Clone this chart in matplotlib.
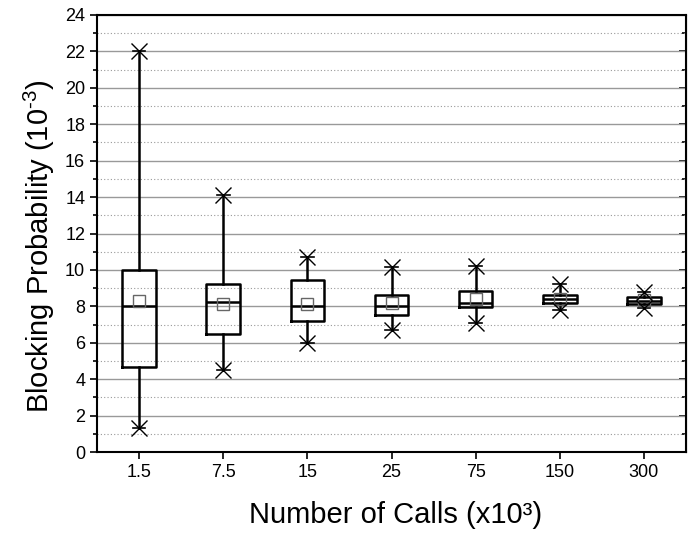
import matplotlib.pyplot as plt
from matplotlib.ticker import MultipleLocator

plt.rcParams['font.family'] = ['Liberation Sans', 'DejaVu Sans']
plt.rcParams['mathtext.fontset'] = 'custom'
plt.rcParams['mathtext.rm'] = 'Liberation Sans'
plt.rcParams['mathtext.default'] = 'regular'

# Blocking probability statistics (x10^-3) per number of calls
calls = ['1.5', '7.5', '15', '25', '75', '150', '300']
whislo = [1.3, 4.5, 6.0, 6.7, 7.1, 7.8, 7.9]
q1 = [4.65, 6.5, 7.2, 7.55, 7.95, 8.2, 8.15]
med = [8.0, 8.25, 8.0, 8.0, 8.2, 8.4, 8.3]
q3 = [10.0, 9.2, 9.45, 8.6, 8.85, 8.65, 8.5]
whishi = [22.0, 14.1, 10.7, 10.15, 10.2, 9.2, 8.8]
means = [8.3, 8.15, 8.15, 8.2, 8.4, 8.4, 8.35]

stats = []
for i in range(len(calls)):
    stats.append(dict(whislo=whislo[i], q1=q1[i], med=med[i], q3=q3[i],
                      whishi=whishi[i], mean=means[i], label=calls[i]))

fig = plt.figure(figsize=(6.96, 5.35), dpi=100)
ax = fig.add_axes([0.1394, 0.1551, 0.8462, 0.8169])

pos = list(range(len(calls)))
ax.bxp(stats, positions=pos, widths=0.4, showmeans=True, showfliers=False,
       boxprops=dict(color='black', linewidth=1.8),
       medianprops=dict(color='black', linewidth=1.8),
       whiskerprops=dict(color='black', linewidth=1.8),
       capprops=dict(color='black', linewidth=1.2),
       capwidths=0.15,
       meanprops=dict(marker='s', markerfacecolor='none', markeredgecolor='#666666',
                      markersize=8, markeredgewidth=1.0),
       zorder=3)
ax.plot(pos, whishi, 'x', color='black', markersize=11, markeredgewidth=1.0, zorder=4)
ax.plot(pos, whislo, 'x', color='black', markersize=11, markeredgewidth=1.0, zorder=4)

ax.set_xlim(-0.5, 6.5)
ax.set_ylim(0, 24)
ax.set_xticks(pos)
ax.set_xticklabels(calls)
ax.yaxis.set_major_locator(MultipleLocator(2))
ax.yaxis.set_minor_locator(MultipleLocator(1))

ax.grid(True, axis='y', which='major', color='#999999', linewidth=1.0, linestyle='-')
ax.grid(True, axis='y', which='minor', color='#999999', linewidth=0.8, linestyle=(0, (1, 2)))
ax.set_axisbelow(True)

ax.tick_params(axis='y', which='both', left=True, right=False, labelsize=13,
               direction='out', width=1.2)
ax.tick_params(axis='y', which='major', length=5)
ax.tick_params(axis='y', which='minor', length=3)
ax.tick_params(axis='x', which='major', labelsize=13, length=5, width=1.2, direction='out')
for sp in ax.spines.values():
    sp.set_linewidth(1.5)

# right-side ticks pointing inward
ax2 = ax.secondary_yaxis('right')
ax2.yaxis.set_major_locator(MultipleLocator(2))
ax2.yaxis.set_minor_locator(MultipleLocator(1))
ax2.tick_params(which='both', direction='in', labelright=False, width=1.2)
ax2.tick_params(which='major', length=5)
ax2.tick_params(which='minor', length=3)

ax.set_xlabel('Number of Calls (x10³)', fontsize=21)
ax.set_ylabel('Blocking Probability (10$^{\u2010 3}$)', fontsize=21)
ax.yaxis.set_label_coords(-0.068, 0.47)
ax.xaxis.set_label_coords(0.507, -0.113)
ax.xaxis.label.set_va('top')

fig.savefig('out.png', dpi=100)
